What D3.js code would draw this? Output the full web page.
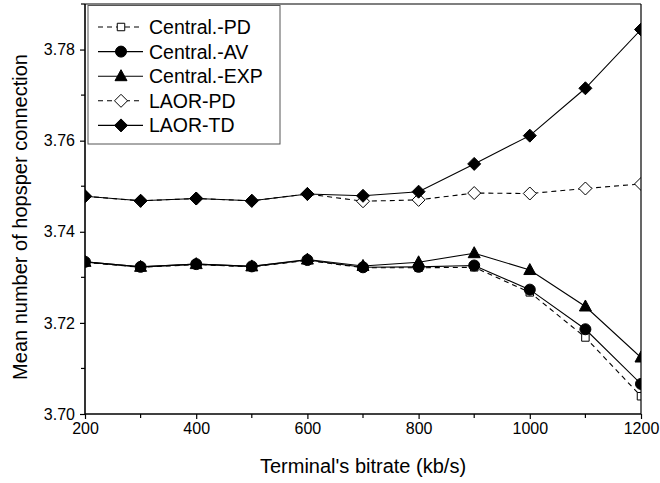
<!DOCTYPE html>
<html><head><meta charset="utf-8">
<script src="https://cdn.jsdelivr.net/npm/d3@7"></script>
<style>
html,body{margin:0;padding:0;background:#fff;}
svg{display:block;font-family:"Liberation Sans",Arial,sans-serif;}
</style>
</head><body>
<svg id="chart" width="660" height="483"></svg>
<script>
const bitrates = [200,300,400,500,600,700,800,900,1000,1100,1200];
const centralPD  = [3.7333,3.7322,3.7328,3.7323,3.7337,3.7321,3.7321,3.7322,3.7267,3.7168,3.7039];
const centralAV  = [3.7334,3.7323,3.7329,3.7324,3.7338,3.7322,3.7323,3.7326,3.7273,3.7186,3.7066];
const centralEXP = [3.7334,3.7323,3.7329,3.7324,3.7339,3.7325,3.7333,3.7353,3.7316,3.7236,3.7124];
const laorPD     = [3.7478,3.7468,3.7473,3.7468,3.7483,3.7467,3.7470,3.7485,3.7484,3.7495,3.7505];
const laorTD     = [3.7478,3.7468,3.7473,3.7468,3.7483,3.7479,3.7488,3.7549,3.7611,3.7715,3.7844];
const seriesNames = ["Central.-PD","Central.-AV","Central.-EXP","LAOR-PD","LAOR-TD"];
const xTicks = [200,400,600,800,1000,1200];
const yTicks = [3.70,3.72,3.74,3.76,3.78];

const series = [
  {name:seriesNames[0], values:centralPD,  dash:"5,4", marker:"square",  fill:"#fff"},
  {name:seriesNames[1], values:centralAV,  dash:null,  marker:"circle",  fill:"#000"},
  {name:seriesNames[2], values:centralEXP, dash:null,  marker:"triangle",fill:"#000"},
  {name:seriesNames[3], values:laorPD,     dash:"5,4", marker:"diamond", fill:"#fff"},
  {name:seriesNames[4], values:laorTD,     dash:null,  marker:"diamond", fill:"#000"}
];

const L=85, R=641, T=4, B=414;
const x = d3.scaleLinear().domain([200,1200]).range([L,R]);
const y = d3.scaleLinear().domain([3.70,3.79]).range([B,T]);
const svg = d3.select("#chart");

svg.append("defs").append("clipPath").attr("id","plotclip")
  .append("rect").attr("x",L).attr("y",T).attr("width",R-L).attr("height",B-T);

function markerPath(type){
  switch(type){
    case "square": return d3.symbol().type(d3.symbolSquare).size(56)();
    case "circle": return d3.symbol().type(d3.symbolCircle).size(95)();
    case "triangle": return "M0,-6.5L6,4.5L-6,4.5Z";
    case "diamond": return "M0,-6.5L6.5,0L0,6.5L-6.5,0Z";
  }
}

const plot = svg.append("g").attr("clip-path","url(#plotclip)");
const line = d3.line().x((d,i)=>x(bitrates[i])).y(d=>y(d));
series.forEach(s=>{
  const g = plot.append("g");
  g.append("path").attr("d",line(s.values)).attr("fill","none")
    .attr("stroke","#000").attr("stroke-width",1.1)
    .attr("stroke-dasharray",s.dash);
  g.selectAll("path.m").data(s.values).enter().append("path").attr("class","m")
    .attr("d",markerPath(s.marker))
    .attr("transform",(d,i)=>`translate(${x(bitrates[i])},${y(d)})`)
    .attr("fill",s.fill).attr("stroke","#000").attr("stroke-width",1);
});

// frame
svg.append("line").attr("x1",L).attr("x2",R).attr("y1",T).attr("y2",T).attr("stroke","#000").attr("stroke-width",1.2);
svg.append("line").attr("x1",R).attr("x2",R).attr("y1",T).attr("y2",B).attr("stroke","#000").attr("stroke-width",1.2);

// axes
const xAxis = d3.axisBottom(x).tickValues(xTicks).tickFormat(d3.format("d")).tickSize(5).tickPadding(4);
const gx = svg.append("g").attr("transform",`translate(0,${B})`).call(xAxis);
const xMinor = d3.range(300,1200,200);
gx.selectAll(".minor").data(xMinor).enter().append("line")
  .attr("x1",d=>x(d)).attr("x2",d=>x(d)).attr("y1",0).attr("y2",4).attr("stroke","#000").attr("stroke-width",1.2);

const yAxis = d3.axisLeft(y).tickValues(yTicks).tickFormat(d3.format(".2f")).tickSize(5).tickPadding(5);
const gy = svg.append("g").attr("transform",`translate(${L},0)`).call(yAxis);
const yMinor = [3.71,3.73,3.75,3.77,3.79];
gy.selectAll(".minor").data(yMinor).enter().append("line")
  .attr("x1",-4).attr("x2",0).attr("y1",d=>y(d)).attr("y2",d=>y(d)).attr("stroke","#000").attr("stroke-width",1.2);

[gx,gy].forEach(g=>{
  g.select(".domain").attr("stroke","#000").attr("stroke-width",1.6);
  g.selectAll(".tick line").attr("stroke","#000").attr("stroke-width",1.2);
  g.selectAll(".tick text").attr("fill","#000").style("font-size","16px").style("font-family","'Liberation Sans',Arial,sans-serif");
});
gx.select(".domain").attr("d",`M${L},0H${R}`);
gy.select(".domain").attr("d",`M0,${B}V${T}`);

svg.append("text").attr("x",(L+R)/2).attr("y",473).attr("text-anchor","middle")
  .style("font-size","20px").text("Terminal's bitrate (kb/s)");
svg.append("text").attr("transform",`translate(27,${(T+B)/2 + 8}) rotate(-90)`).attr("text-anchor","middle")
  .style("font-size","20px").text("Mean number of hopsper connection");

// legend
const lg = svg.append("g");
lg.append("rect").attr("x",88).attr("y",5.5).attr("width",192).attr("height",138.5)
  .attr("fill","#fff").attr("stroke","#555").attr("stroke-width",1);
series.forEach((s,i)=>{
  const yy = 27 + i*24.6;
  lg.append("line").attr("x1",98).attr("x2",143).attr("y1",yy).attr("y2",yy)
    .attr("stroke","#000").attr("stroke-width",1.1).attr("stroke-dasharray",s.dash);
  lg.append("path").attr("d",markerPath(s.marker)).attr("transform",`translate(121,${yy})`)
    .attr("fill",s.fill).attr("stroke","#000");
  lg.append("text").attr("x",149).attr("y",yy+7).style("font-size","19.5px").text(s.name);
});
</script>
</body></html>
